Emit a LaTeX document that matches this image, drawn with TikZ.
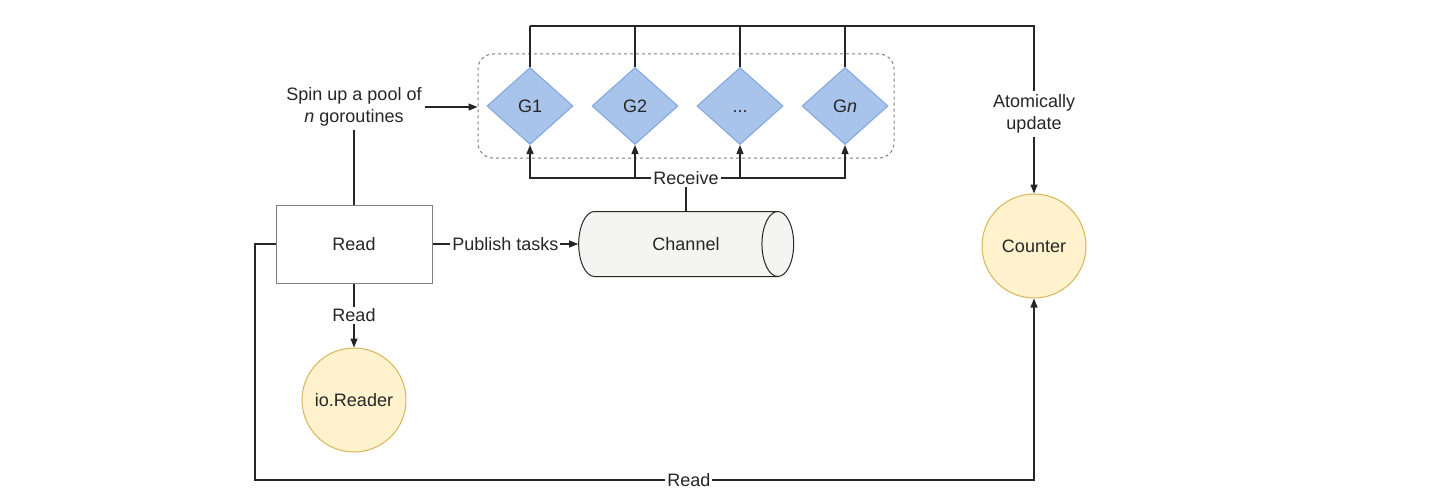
\documentclass[tikz,border=0pt]{standalone}
\usepackage{fontspec}
\setmainfont{Liberation Sans}
\usetikzlibrary{positioning,shapes.geometric,arrows.meta}
\definecolor{gofill}{HTML}{A9C4EB}
\definecolor{goline}{HTML}{7EA6E0}
\definecolor{memfill}{HTML}{FFF2CC}
\definecolor{memline}{HTML}{D6B656}
\definecolor{chanfill}{HTML}{F4F5F3}
\definecolor{boxline}{HTML}{808080}

\begin{document}
\begin{tikzpicture}[x=1pt,y=-1pt,
				every node/.style={font=\fontsize{18}{21.6}\selectfont,text=black!85},
				worker/.style={diamond,draw=goline,fill=gofill,line width=1pt,minimum width=86pt,minimum height=77pt,inner sep=0pt,node distance=18pt},
				store/.style={circle,draw=memline,fill=memfill,line width=1pt,minimum size=104pt,inner sep=0pt},
				task/.style={rectangle,draw=boxline,line width=1pt,minimum width=156pt,minimum height=78pt},
				lbl/.style={fill=white,inner sep=2pt,align=center},
				link/.style={line width=1.2pt,black!85},
				ptr/.style={link,-{Triangle[length=9pt,width=7pt]}}]
				\useasboundingbox (0,0) rectangle (1434,500);
				\node (READ)  [task] at (354,244)        {Read};
				\node (G1)    [worker] at (530,106)      {G1};
				\node (G2)    [worker,right=of G1]       {G2};
				\node (G3)    [worker,right=of G2]       {\vphantom{G}...};
				\node (GN)    [worker,right=of G3]       {G\textit{n}};
				\node (POOL)  [draw=boxline,dashed,line width=1pt,rounded corners=15pt,minimum width=416pt,minimum height=104pt] at (686,106) {};
				\node (CHAN)  [cylinder,draw=black!85,fill=chanfill,line width=1pt,minimum width=65pt,minimum height=215pt,aspect=2.4,inner sep=0pt] at (678,244) {\hspace{16pt}Channel};
				\node (CNT)   [store] at (1034,246)       {Counter};
				\node (IOR)   [store,below=64pt of READ] {io.Reader};
				\node (SPIN)  [align=center] at (354,107) {Spin up a pool of\\\textit{n} goroutines};
				\node (ATOM)  [align=center] at (1034,114) {Atomically\\update};
				\coordinate (TOP) at (1034,26);
				\coordinate (RCV) at (686,178);
				\coordinate (LL)  at (255,480);
				
				\foreach \g in {G1,G2,G3,GN}
					\draw[link] (\g.north) -- (\g.north |- TOP);
				\draw[link] (G1.north |- TOP) -- (TOP) -- (ATOM);
				\draw[ptr] (ATOM) -- (CNT);
				\foreach \g in {G1,G2,G3,GN}
					\draw[ptr] (RCV) -| (\g.south);
				\draw[link] (RCV |- CHAN.north) -- (RCV);
				\node[lbl] at (RCV) {Receive};
				\draw[link] (READ) -- (SPIN);
				\draw[ptr] (SPIN.east) -- (SPIN.east -| POOL.west);
				\draw[ptr] (READ) -- node[lbl] {Publish tasks} (CHAN);
				\draw[ptr] (READ) -- node[lbl] {Read} (IOR);
				\draw[ptr] (READ.west) -| (LL) -- node[lbl,pos=0.557] {Read} (LL -| CNT) -- (CNT);
			\end{tikzpicture}
\end{document}
